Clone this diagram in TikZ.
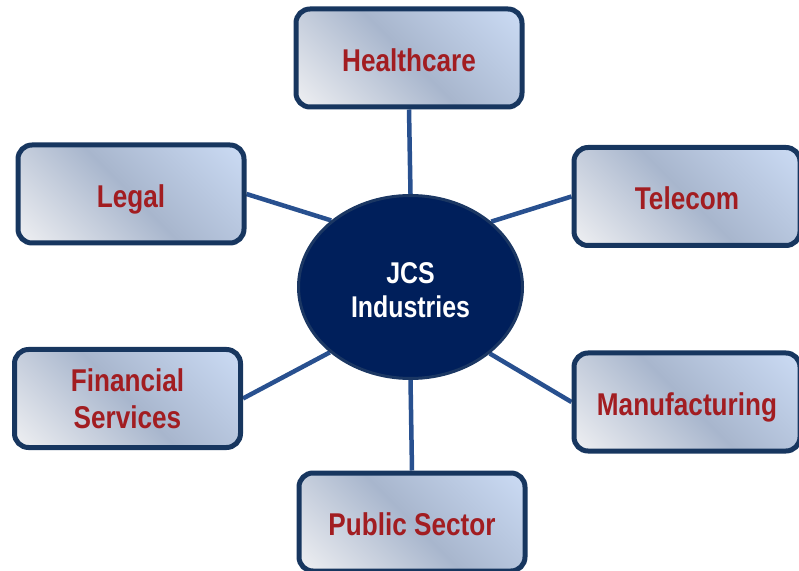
\documentclass[tikz,border=0pt]{standalone}
\usepackage{fontspec}
\setmainfont{Liberation Sans}[FakeStretch=0.83]
\usetikzlibrary{shapes.geometric,backgrounds}

\definecolor{boxedge}{HTML}{17365F}
\definecolor{linkblue}{HTML}{28508F}
\definecolor{hubfill}{HTML}{001F5B}
\definecolor{hubedge}{HTML}{1B3763}
\definecolor{labelred}{HTML}{A21D21}
\definecolor{shadeA}{HTML}{EDEEF1}
\definecolor{shadeB}{HTML}{A8B6CD}
\definecolor{shadeC}{HTML}{CADAF3}

% light corner bottom-left, grey-blue band across the middle, pale blue top-right
\pgfdeclarehorizontalshading{sectorshade}{100bp}{%
  color(0bp)=(shadeA); color(16bp)=(shadeA); color(50bp)=(shadeB);
  color(84bp)=(shadeC); color(100bp)=(shadeC)}

\tikzset{
  sectorbase/.style={draw=boxedge, line width=5pt, rounded corners=14pt,
    shading=sectorshade, shading angle=45,
    minimum width=226pt, minimum height=98pt, inner sep=0pt,
    align=center, text=labelred,
    font=\fontsize{31.5}{37}\selectfont\bfseries},
  sectorbox/.style={sectorbase, text height=26.5pt, text depth=0pt},
  hub/.style={ellipse, draw=hubedge, line width=3pt, fill=hubfill,
    minimum width=224pt, minimum height=183pt, inner sep=0pt},
  hubtext/.style={align=center, text=white, inner sep=0pt,
    font=\fontsize{30}{34}\selectfont\bfseries},
  link/.style={draw=linkblue, line width=4.5pt}
}

\begin{document}
\begin{tikzpicture}[x=1pt,y=1pt]
  \useasboundingbox (0,0) rectangle (799,570);

  \node[hub] (hub) at (410.5,283) {};
  \node[hubtext] (hubname) at ([yshift=-3pt]hub.center) {JCS\\Industries};

  \node[sectorbox]  (health)  at (409,512)     {Healthcare};
  \node[sectorbox]  (legal)   at (131,376)     {Legal};
  \node[sectorbox]  (telecom) at (687,373.5)   {Telecom};
  \node[sectorbase] (finance) at (127.5,171.5) {Financial\\Services};
  \node[sectorbox]  (manuf)   at (687,168)     {Manufacturing};
  \node[sectorbox]  (public)  at (412,48)      {Public Sector};

  \begin{pgfonlayer}{background}
    \draw[link] (health.south) -- (hub.north);
    \draw[link] (legal.east) -- (hub.140);
    \draw[link] (telecom.west) -- (hub.39);
    \draw[link] (finance.east) -- (hub.219);
    \draw[link] (manuf.west) -- (hub.320);
    \draw[link] (public.north) -- (hub.south);
  \end{pgfonlayer}
\end{tikzpicture}
\end{document}
